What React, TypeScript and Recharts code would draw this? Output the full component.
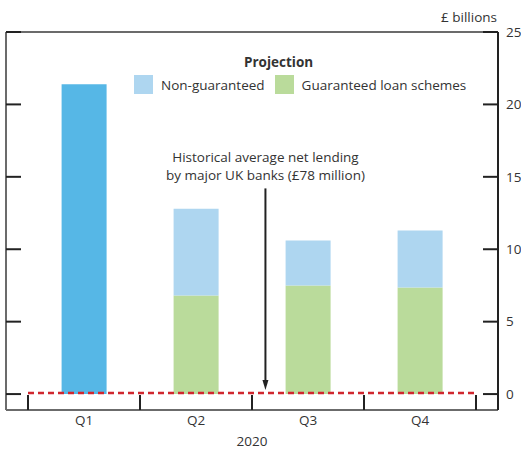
import React from 'react';
import {
  ComposedChart,
  Bar,
  XAxis,
  YAxis,
  ReferenceLine,
  Legend,
} from 'recharts';

// Bank lending to businesses, 2020 (£ billions)
const quarters = ['Q1', 'Q2', 'Q3', 'Q4'];
const actual = [21.4, 0, 0, 0];
const guaranteed = [0, 6.8, 7.5, 7.35];
const nonGuaranteed = [0, 6.0, 3.1, 3.95];
const yTicks = [0, 5, 10, 15, 20, 25];
const boundaryTicks = [0, 1, 2, 3, 4];

// historical average net lending, £78 million
const historicalAverage = 0.078;
// arrow pointing at the average line, in the boundary-axis units
const arrowX = 2.12;
const arrowTop = 14.2;
const arrowTip = 0.28;

const data = quarters.map((q, i) => ({
  quarter: q,
  slot: i + 0.5,
  actual: actual[i],
  guaranteed: guaranteed[i],
  nonGuaranteed: nonGuaranteed[i],
}));

const FONT = '"Open Sans", "Noto Sans", sans-serif';
const FS = 13.5;
const TEXT = '#333333';
const FRAME = '#6b6b6b';
const PAD = 22;

const EmptyTick = () => <g />;

const ArrowShape = (props: any) => {
  const { x1, y1, x2, y2 } = props;
  return (
    <g>
      <line x1={x1} y1={y1} x2={x2} y2={y2 - 8} stroke="#222" strokeWidth={2} />
      <path d={`M${x2 - 3},${y2 - 10} L${x2 + 3},${y2 - 10} L${x2},${y2} Z`} fill="#222" />
      <text x={x1} y={y1 - 31} textAnchor="middle" dominantBaseline="central" fontSize={FS} fill={TEXT} fontFamily={FONT}>
        Historical average net lending
      </text>
      <text x={x1} y={y1 - 13} textAnchor="middle" dominantBaseline="central" fontSize={FS} fill={TEXT} fontFamily={FONT}>
        by major UK banks (£78 million)
      </text>
    </g>
  );
};

const UnitLabel = (props: any) => {
  const { viewBox } = props;
  if (!viewBox) return null;
  return (
    <text x={viewBox.x - 1} y={viewBox.y - 15} textAnchor="end" dominantBaseline="central" fontSize={FS} fill={TEXT} fontFamily={FONT}>
      £ billions
    </text>
  );
};

const LegendContent = (props: any) => {
  const items = (props.payload || []).filter((p: any) => p.type !== 'none');
  const order = ['nonGuaranteed', 'guaranteed'];
  items.sort((a: any, b: any) => order.indexOf(a.dataKey) - order.indexOf(b.dataKey));
  return (
    <div style={{ position: 'relative', fontFamily: FONT, color: TEXT, fontSize: FS }}>
      <div style={{ position: 'absolute', left: 110, top: 0, fontWeight: 700, lineHeight: '20px' }}>
        Projection
      </div>
      <div style={{ position: 'absolute', left: 0, top: 23, display: 'flex', alignItems: 'center', whiteSpace: 'nowrap' }}>
        {items.map((it: any) => (
          <div key={it.dataKey} style={{ display: 'flex', alignItems: 'center', marginRight: 10 }}>
            <span style={{ width: 19, height: 19, background: it.color, display: 'inline-block', marginRight: 8 }} />
            <span>{it.value}</span>
          </div>
        ))}
      </div>
    </div>
  );
};

export default function App() {
  return (
    <div style={{ position: 'absolute', left: 0, top: 0, width: 521, height: 451, background: '#fff' }}>
      <ComposedChart
        width={521}
        height={451}
        data={data}
        margin={{ top: 31, right: 0, bottom: 0, left: 6 }}
        barCategoryGap="30%"
      >
        <XAxis
          xAxisId="b"
          dataKey="slot"
          type="number"
          domain={[0, 4]}
          allowDataOverflow
          ticks={boundaryTicks}
          padding={{ left: PAD, right: PAD }}
          orientation="bottom"
          mirror
          height={1}
          tickSize={15}
          tick={<EmptyTick />}
          axisLine={{ stroke: FRAME, strokeWidth: 2 }}
          tickLine={{ stroke: '#222', strokeWidth: 2 }}
        />
        <XAxis
          dataKey="quarter"
          padding={{ left: PAD, right: PAD }}
          height={41}
          axisLine={false}
          tickLine={false}
          tickSize={0}
          tickMargin={5}
          tick={{ fontSize: FS, fill: TEXT, fontFamily: FONT }}
          label={{ value: '2020', position: 'insideBottom', offset: 5, fontSize: FS, fill: TEXT, fontFamily: FONT }}
        />
        <XAxis
          xAxisId="t"
          dataKey="quarter"
          orientation="top"
          height={1}
          tick={<EmptyTick />}
          tickLine={false}
          axisLine={{ stroke: FRAME, strokeWidth: 2 }}
        />
        <YAxis
          yAxisId="l"
          orientation="left"
          domain={[-1.1, 25]}
          allowDataOverflow
          ticks={yTicks}
          mirror
          width={1}
          tickSize={15}
          tick={<EmptyTick />}
          axisLine={{ stroke: FRAME, strokeWidth: 2 }}
          tickLine={{ stroke: '#222', strokeWidth: 2 }}
        />
        <YAxis
          yAxisId={0}
          orientation="right"
          domain={[-1.1, 25]}
          allowDataOverflow
          ticks={yTicks}
          mirror
          width={1}
          tickSize={15}
          tick={<EmptyTick />}
          axisLine={{ stroke: '#222', strokeWidth: 2 }}
          tickLine={{ stroke: '#222', strokeWidth: 2 }}
        />
        <YAxis
          yAxisId="r"
          orientation="right"
          domain={[-1.1, 25]}
          allowDataOverflow
          ticks={yTicks}
          width={23}
          axisLine={false}
          tickLine={false}
          tickSize={0}
          tickMargin={8}
          tick={{ fontSize: FS, fill: TEXT, fontFamily: FONT }}
          label={<UnitLabel />}
        />
        <Legend
          layout="vertical"
          align="center"
          verticalAlign="middle"
          wrapperStyle={{ left: 134, top: 52, width: 360, height: 45 }}
          content={<LegendContent />}
        />
        <Bar dataKey="actual" stackId="a" fill="#56b7e6" legendType="none" isAnimationActive={false} />
        <Bar dataKey="guaranteed" name="Guaranteed loan schemes" stackId="a" fill="#badb9b" isAnimationActive={false} />
        <Bar dataKey="nonGuaranteed" name="Non-guaranteed" stackId="a" fill="#aed6f0" isAnimationActive={false} />
        {/* invisible lines so the tick-only axes get their domains */}
        <ReferenceLine yAxisId="l" y={0} stroke="none" ifOverflow="visible" />
        <ReferenceLine yAxisId="r" y={0} stroke="none" ifOverflow="visible" />
        <ReferenceLine
          xAxisId="b"
          segment={[{ x: 0, y: historicalAverage }, { x: 4, y: historicalAverage }]}
          stroke="#d0262e"
          strokeWidth={2.5}
          strokeDasharray="6 4"
          ifOverflow="visible"
        />
        <ReferenceLine
          xAxisId="b"
          segment={[{ x: arrowX, y: arrowTop }, { x: arrowX, y: arrowTip }]}
          shape={<ArrowShape />}
          ifOverflow="visible"
        />
      </ComposedChart>
    </div>
  );
}
